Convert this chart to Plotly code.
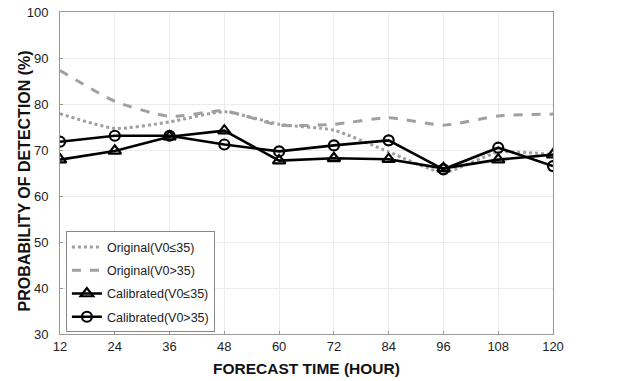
import plotly.graph_objects as go

hours = [12, 24, 36, 48, 60, 72, 84, 96, 108, 120]
orig_le35 = [77.9, 74.7, 76.1, 78.3, 75.6, 74.3, 69.6, 65.2, 69.5, 69.0]
orig_gt35 = [87.3, 80.6, 77.3, 78.5, 75.4, 75.6, 77.0, 75.4, 77.4, 77.8]
cal_le35 = [67.9, 69.8, 72.9, 74.2, 67.7, 68.2, 68.0, 66.0, 67.9, 69.0]
cal_gt35 = [71.8, 73.1, 73.1, 71.2, 69.7, 71.0, 72.1, 65.8, 70.5, 66.5]

names = ["Original(V0≤35)", "Original(V0>35)", "Calibrated(V0≤35)", "Calibrated(V0>35)"]

fig = go.Figure()
fig.add_trace(go.Scatter(x=hours, y=orig_le35, name=names[0], mode="lines", legendgroup="a",
                         line=dict(color="#a0a0a0", width=3, dash="dot", shape="spline", smoothing=0.6)))
fig.add_trace(go.Scatter(x=hours, y=orig_gt35, name=names[1], mode="lines", legendgroup="b",
                         line=dict(color="#a0a0a0", width=3, dash="dash", shape="spline", smoothing=0.6)))
fig.add_trace(go.Scatter(x=hours, y=cal_le35, name=names[2], mode="lines+markers", legendgroup="c",
                         line=dict(color="black", width=2.6),
                         marker=dict(symbol="triangle-up-open", size=11, color="black", line=dict(width=2.2))))
fig.add_trace(go.Scatter(x=hours, y=cal_gt35, name=names[3], mode="lines+markers", legendgroup="d",
                         line=dict(color="black", width=2.6),
                         marker=dict(symbol="circle-open", size=10, color="black", line=dict(width=2.2))))

fig.update_layout(
    width=628, height=381,
    margin=dict(l=60, r=75, t=12, b=47),
    paper_bgcolor="white", plot_bgcolor="white",
    font=dict(family="Liberation Sans, Arial, sans-serif", size=13, color="#222"),
    showlegend=True,
    legend=dict(x=0.012, y=0.005, xanchor="left", yanchor="bottom",
                bgcolor="white", bordercolor="#888", borderwidth=1,
                font=dict(size=12.5, color="#222"), tracegroupgap=4, itemwidth=30),
    annotations=[dict(text="<b>PROBABILITY OF DETECTION (%)</b>", textangle=-90,
                      xref="paper", yref="paper", x=-0.073, y=0.474,
                      xanchor="center", yanchor="middle", showarrow=False,
                      font=dict(size=16, color="#111"))],
)
fig.update_xaxes(range=[12, 120], tickvals=hours, ticktext=[str(h) for h in hours],
                 automargin=False,
                 showgrid=True, gridcolor="#ececec", gridwidth=1,
                 showline=True, linecolor="#999", linewidth=1, mirror=True,
                 ticks="inside", ticklen=3, tickcolor="#999",
                 title=dict(text="<b>FORECAST TIME (HOUR)</b>", font=dict(size=15.5, color="#111"), standoff=10),
                 zeroline=False)
fig.update_yaxes(range=[30, 100], dtick=10,
                 automargin=False, ticklabelstandoff=8,
                 showgrid=True, gridcolor="#ececec", gridwidth=1,
                 showline=True, linecolor="#999", linewidth=1, mirror=True,
                 ticks="inside", ticklen=3, tickcolor="#999",
                 zeroline=False)

fig.write_html("out.html", config={"displayModeBar": False},
               post_script="document.body.style.margin='0';")
